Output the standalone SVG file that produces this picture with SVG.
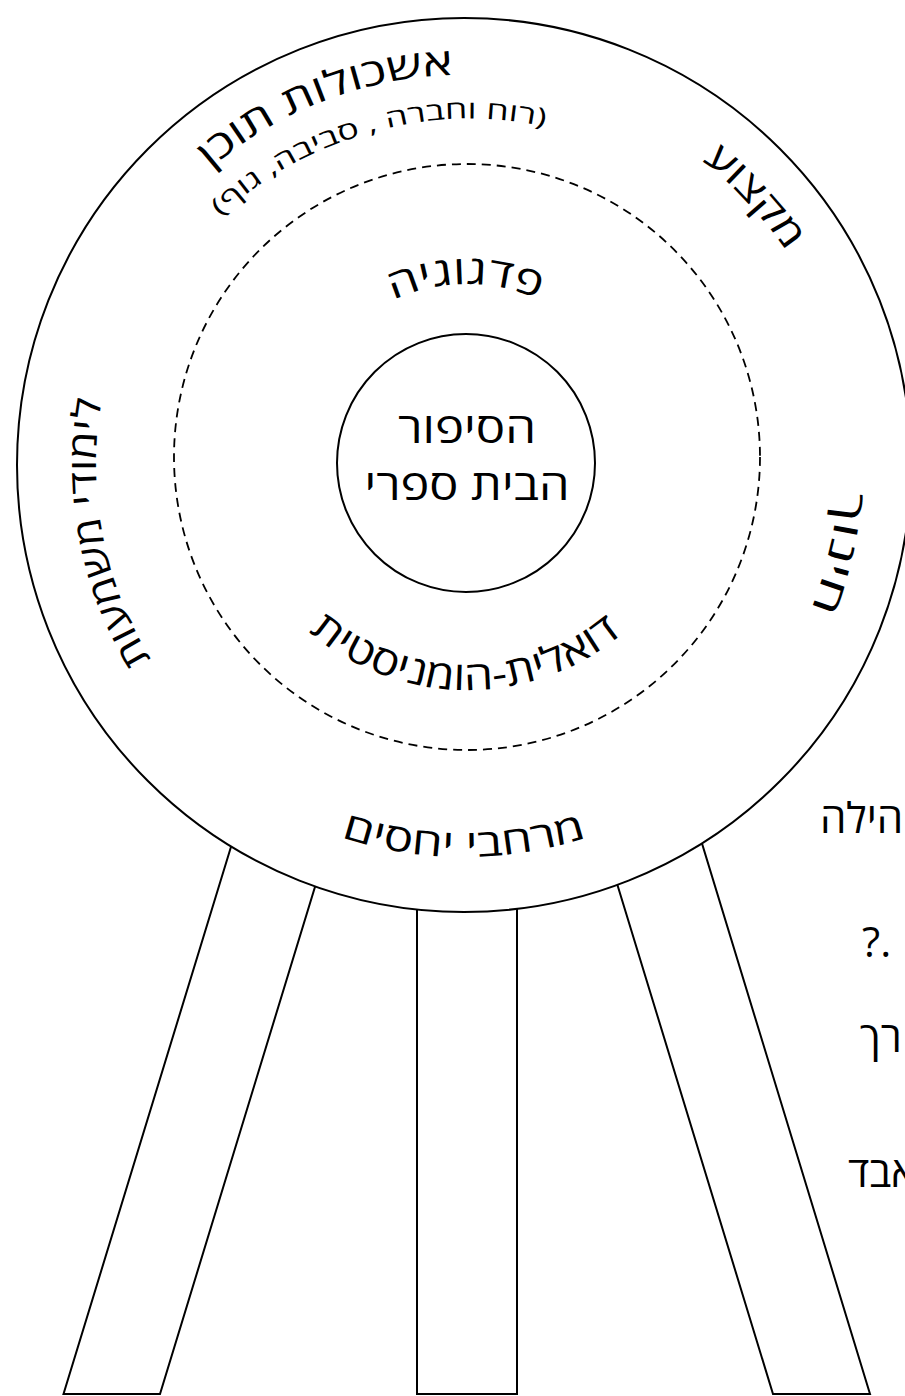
<svg xmlns="http://www.w3.org/2000/svg" width="905" height="1396" viewBox="0 0 905 1396">
<style>
text{font-family:"Open Sans","DejaVu Sans",sans-serif;fill:#000}
.ring{font-size:38px}
.sub{font-size:25px}
.mid{font-size:40px}
.core{font-size:42px}
.side{font-size:42px}
.leg{fill:#fff;stroke:#000;stroke-width:2;stroke-linejoin:miter}
</style>
<defs>
<path id="pTop" d="M604.4,828.9 A390,390 0 1 1 323.6,101.1 A390,390 0 1 1 604.4,828.9"/>
<path id="pSub" d="M556.2,797.4 A345,345 0 1 1 371.8,132.6 A345,345 0 1 1 556.2,797.4"/>
<path id="pMik" d="M180.6,727 A386,386 0 1 1 747.4,203 A386,386 0 1 1 180.6,727"/>
<path id="pHin" d="M99.1,378.7 A375,375 0 1 1 828.9,551.3 A375,375 0 1 1 99.1,378.7"/>
<path id="pLim" d="M825.5,396 A368,368 0 1 1 102.5,534 A368,368 0 1 1 825.5,396"/>
<path id="pMer" d="M464,73 A392,392 0 1 0 464,857 A392,392 0 1 0 464,73"/>
<path id="pPed" d="M468.5,636 A176,176 0 1 1 465.5,284 A176,176 0 1 1 468.5,636"/>
<path id="pDua" d="M469.1,204 A243,243 0 1 0 464.9,690 A243,243 0 1 0 469.1,204"/>
</defs>
<g id="legs">
<polygon id="leg-left" class="leg" points="234,837 63.5,1394 160,1394 318,877"/>
<polygon id="leg-middle" class="leg" points="417,899 417,1394 517,1394 517,899"/>
<polygon id="leg-right" class="leg" points="615,877 773,1394 870,1394 700,837"/>
</g>
<g id="outer-ring">
<circle cx="464" cy="465" r="447" fill="#fff" stroke="#000" stroke-width="2"/>
<text class="ring"><textPath href="#pTop" startOffset="50%" text-anchor="middle" textLength="266" lengthAdjust="spacingAndGlyphs">אשכולות תוכן</textPath></text>
<text class="sub"><textPath href="#pSub" startOffset="50%" text-anchor="middle" textLength="350" lengthAdjust="spacingAndGlyphs">(רוח וחברה , סביבה, גוף)</textPath></text>
<text class="ring"><textPath href="#pMik" startOffset="50%" text-anchor="middle" textLength="125" lengthAdjust="spacingAndGlyphs">מקצוע</textPath></text>
<text class="ring"><textPath href="#pHin" startOffset="50%" text-anchor="middle" textLength="122" lengthAdjust="spacingAndGlyphs">חינוך</textPath></text>
<text class="ring"><textPath href="#pLim" startOffset="50%" text-anchor="middle" textLength="270" lengthAdjust="spacingAndGlyphs">לימודי משמעות</textPath></text>
<text class="ring" font-size="40"><textPath href="#pMer" startOffset="50%" text-anchor="middle" textLength="250" lengthAdjust="spacingAndGlyphs">מרחבי יחסים</textPath></text>
</g>
<g id="pedagogy-ring">
<circle cx="467" cy="457" r="293" fill="none" stroke="#000" stroke-width="1.8" stroke-dasharray="9 6"/>
<text class="mid"><textPath href="#pPed" startOffset="50%" text-anchor="middle" textLength="150" lengthAdjust="spacingAndGlyphs">פדגוגיה</textPath></text>
<text class="mid" font-size="38"><textPath href="#pDua" startOffset="50%" text-anchor="middle" textLength="340" lengthAdjust="spacingAndGlyphs">דואלית-הומניסטית</textPath></text>
</g>
<g id="core">
<circle cx="466" cy="463" r="129" fill="none" stroke="#000" stroke-width="2"/>
<text class="core" x="467" y="443" text-anchor="middle" textLength="138" lengthAdjust="spacingAndGlyphs">הסיפור</text>
<text class="core" x="467" y="500" text-anchor="middle" textLength="205" lengthAdjust="spacingAndGlyphs">הבית ספרי</text>
</g>
<g id="side-text">
<text class="side" x="820" y="833">הילה</text>
<text class="side" x="862" y="957">?.</text>
<text class="side" x="860" y="1052">רך</text>
<text class="side" x="848" y="1187">אבד</text>
</g>
</svg>
